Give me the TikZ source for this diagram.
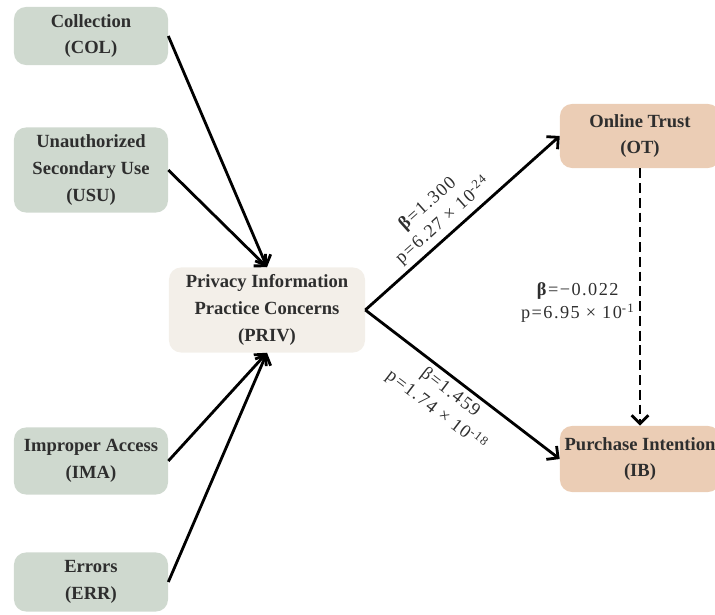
\documentclass[tikz,border=0pt]{standalone}
\usepackage{fontspec}
\setmainfont{Liberation Serif}
\newfontfamily\estfont[LetterSpace=8]{Liberation Serif}
\usetikzlibrary{arrows.meta}
\definecolor{sage}{HTML}{CFD9CF}
\definecolor{cream}{HTML}{F3EFE9}
\definecolor{peach}{HTML}{EBCDB5}
\definecolor{ink}{HTML}{2E2E2E}
\tikzset{
  box/.style={rounded corners=0.3cm, text=ink, align=center, inner sep=0pt,
    font=\bfseries\fontsize{13.2}{19}\selectfont},
  link/.style={line width=2pt, -{Straight Barb[length=6pt,width=12pt,line width=2pt]}},
  est/.style={text=ink, align=center, inner sep=3pt, font=\estfont\fontsize{13}{16.5}\selectfont}
}

\begin{document}
\begin{tikzpicture}[x=0.025cm,y=-0.025cm]
  \useasboundingbox (0,0) rectangle (715,615);
  % factors of privacy concern
  \node[box, fill=sage, minimum width=3.85cm, minimum height=1.45cm] (col) at (91,36) {Collection\\(COL)};
  \node[box, fill=sage, minimum width=3.85cm, minimum height=2.125cm] (usu) at (91,170) {Unauthorized\\Secondary Use\\(USU)};
  \node[box, fill=sage, minimum width=3.85cm, minimum height=1.675cm] (ima) at (91,461) {Improper Access\\(IMA)};
  \node[box, fill=sage, minimum width=3.85cm, minimum height=1.475cm] (err) at (91,582) {Errors\\(ERR)};
  \node[box, fill=cream, minimum width=4.9cm, minimum height=2.125cm] (priv) at (267,310) {Privacy Information\\Practice Concerns\\(PRIV)};
  % outcomes
  \node[box, fill=peach, minimum width=4cm, minimum height=1.6cm] (ot) at (640,136) {Online Trust\\(OT)};
  \node[box, fill=peach, minimum width=4cm, minimum height=1.65cm] (ib) at (640,459) {Purchase Intention\\(IB)};

  \draw[link] (col.east) -- (priv.north);
  \draw[link] (usu.east) -- (priv.north);
  \draw[link] (ima.east) -- (priv.south);
  \draw[link] (err.east) -- (priv.south);
  \draw[link] (priv.east) -- node[est, sloped, above, pos=0.45] {\textbf{β}=1.300\\p=6.27 × 10\textsuperscript{-24}} (ot.west);
  \draw[link] (priv.east) -- node[est, sloped, below, pos=0.48] {β=1.459\\p=1.74 × 10\textsuperscript{-18}} (ib.west);
  \draw[link, dash pattern=on 7pt off 3.5pt] (ot.south) -- node[est, left, pos=0.52] {\textbf{β}=−0.022\\p=6.95 × 10\textsuperscript{-1}} (ib.north);
\end{tikzpicture}
\end{document}
